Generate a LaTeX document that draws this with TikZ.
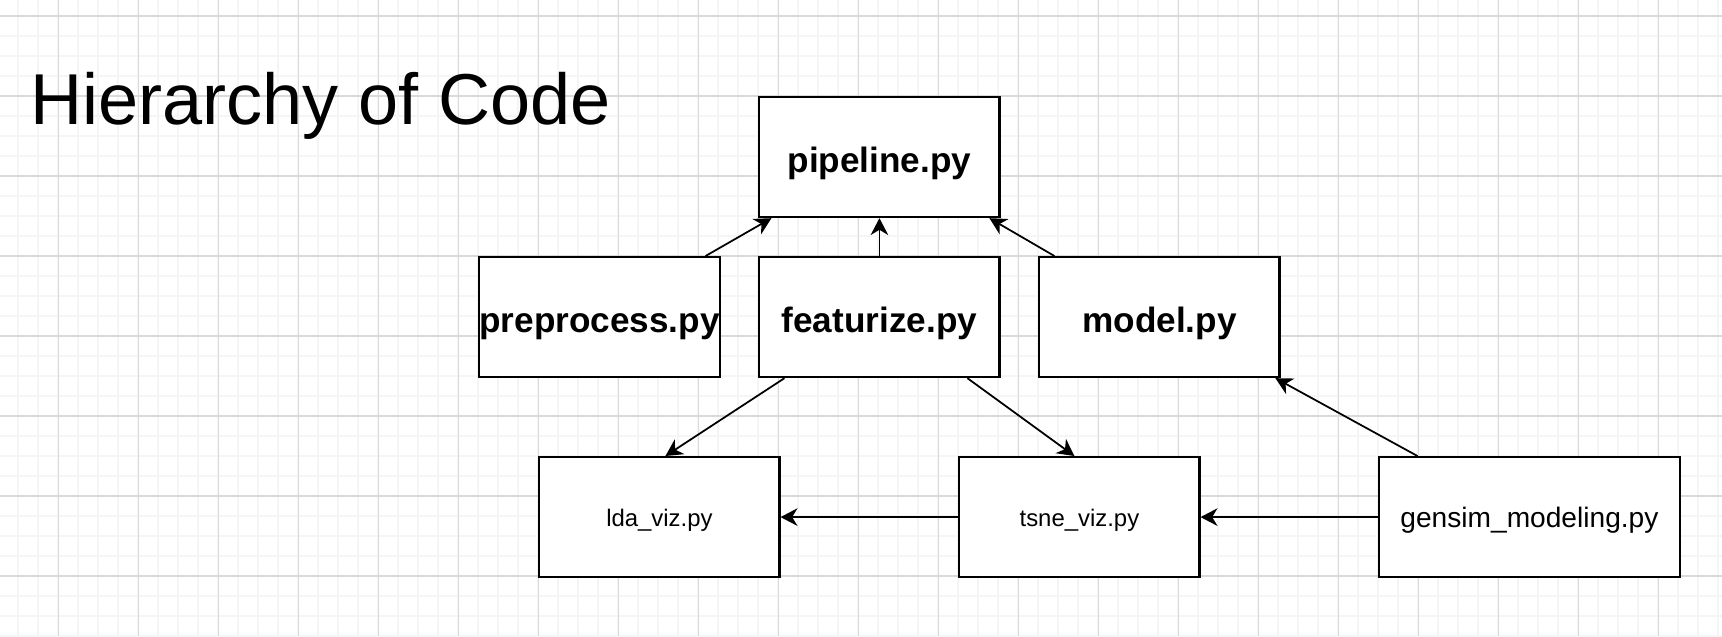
\documentclass[tikz,border=0pt]{standalone}
\usepackage{fontspec}
\setmainfont{Liberation Sans}
\usetikzlibrary{arrows.meta,calc}
\definecolor{minorgrid}{RGB}{245,245,245}
\definecolor{majorgrid}{RGB}{218,218,218}
\begin{document}
\begin{tikzpicture}[x=0.01cm,y=-0.01cm,
  filebox/.style={draw, line width=0.6pt, fill=white, minimum width=2.4cm,
    minimum height=1.2cm, inner sep=0pt, anchor=north west},
  bigtext/.style={font=\fontsize{10}{12}\selectfont\bfseries, text height=9.2pt, text depth=0.6pt},
  smalltext/.style={font=\fontsize{6.8}{8}\selectfont, text height=5.9pt, text depth=0.4pt},
  midtext/.style={font=\fontsize{8}{10}\selectfont, text height=6.6pt, text depth=0.5pt},
  conn/.style={-{Stealth[length=4.8pt,width=5pt,inset=1.5pt]}, line width=0.5pt},
  minorline/.style={draw=minorgrid, line width=0.55pt},
  majorline/.style={draw=majorgrid, line width=0.3pt}]
\useasboundingbox (0,0) rectangle (1722,636);
\fill[white] (0,0) rectangle (1722,636);
% grid
\foreach \i in {0,...,85} {\path[minorline] ({18.3+20*\i},0) -- ({18.3+20*\i},636);}
\foreach \j in {0,...,31} {\path[minorline] (0,{16+20*\j}) -- (1722,{16+20*\j});}
\foreach \i in {0,...,20} {\path[majorline] ({58.3+80*\i},0) -- ({58.3+80*\i},636);}
\foreach \j in {0,...,7} {\path[majorline] (0,{16+80*\j}) -- (1722,{16+80*\j});}
% title
\node[anchor=base west, inner sep=0pt, font=\fontsize{20.5}{24}\selectfont] (title) at (29.5,124) {Hierarchy of Code};
% boxes
\node[filebox, bigtext] (pipeline) at (758.3,96) {pipeline.py};
\node[filebox, bigtext] (preprocess) at (478.3,256) {preprocess.py};
\node[filebox, bigtext] (featurize) at (758.3,256) {featurize.py};
\node[filebox, bigtext] (model) at (1038.3,256) {model.py};
\node[filebox, smalltext] (lda) at (538.3,456) {lda\_viz.py};
\node[filebox, smalltext] (tsne) at (958.3,456) {tsne\_viz.py};
\node[filebox, midtext, minimum width=3cm] (gensim) at (1378.3,456) {gensim\_modeling.py};
% connectors
\draw[conn] ($(preprocess.north)+(106,0)$) -- ($(pipeline.south)+(-108,0)$);
\draw[conn] (featurize.north) -- (pipeline.south);
\draw[conn] ($(model.north)+(-105,0)$) -- ($(pipeline.south)+(110,0)$);
\draw[conn] ($(featurize.south)+(-95,0)$) -- ($(lda.north)+(6,0)$);
\draw[conn] ($(featurize.south)+(88,0)$) -- ($(tsne.north)+(-5,0)$);
\draw[conn] ($(gensim.north)+(-112,0)$) -- ($(model.south)+(116,0)$);
\draw[conn] (tsne.west) -- (lda.east);
\draw[conn] (gensim.west) -- (tsne.east);
\end{tikzpicture}
\end{document}
